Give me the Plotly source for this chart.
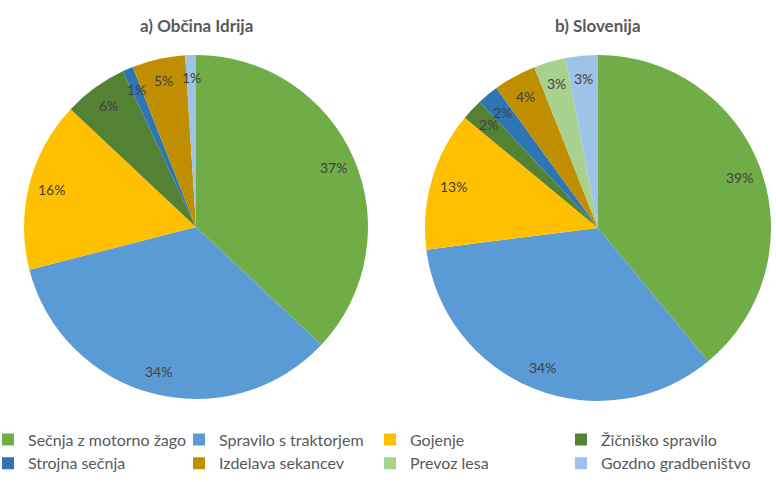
import math
import plotly.graph_objects as go

# Categories of forestry work and their shares (%)
categories = [
    "Sečnja z motorno žago",
    "Spravilo s traktorjem",
    "Gojenje",
    "Žičniško spravilo",
    "Strojna sečnja",
    "Izdelava sekancev",
    "Prevoz lesa",
    "Gozdno gradbeništvo",
]
idrija_values = [37, 34, 16, 6, 1, 5, 0, 1]
slovenija_values = [39, 34, 13, 2, 2, 4, 3, 3]
panel_titles = ["a) Občina Idrija", "b) Slovenija"]

colors = ["#70AD47", "#5B9BD5", "#FFC000", "#548235",
          "#2E75B6", "#BF8F00", "#A9D18E", "#9DC3E6"]

W, H = 776, 482
FONT = "Lato, Carlito, Calibri, sans-serif"

# pie geometry in pixels: (center x, center y, radius)
pies = [(196, 227, 172), (598, 228, 173)]
LABEL_R = 0.87


def px_x(x):
    return x / W


def px_y(y):
    return 1 - y / H


fig = go.Figure()
annotations = []
for i, (vals, (cx, cy, r), title) in enumerate(
        zip([idrija_values, slovenija_values], pies, panel_titles)):
    fig.add_trace(go.Pie(
        labels=categories,
        values=vals,
        sort=False,
        direction="clockwise",
        rotation=0,
        marker=dict(colors=colors, line=dict(width=0)),
        textposition="none",
        hoverinfo="label+percent",
        domain=dict(x=[px_x(cx - r), px_x(cx + r)],
                    y=[px_y(cy + r), px_y(cy - r)]),
        showlegend=(i == 0),
    ))
    annotations.append(dict(
        text=f"<b>{title}</b>", x=px_x(cx), y=px_y(25), xref="paper", yref="paper",
        showarrow=False, font=dict(family=FONT, size=17, color="#595959"),
        xanchor="center", yanchor="middle"))
    total = sum(vals)
    cum = 0
    for v in vals:
        if v > 0:
            mid = (cum + v / 2) / total * 2 * math.pi
            lx = cx + LABEL_R * r * math.sin(mid)
            ly = cy - LABEL_R * r * math.cos(mid)
            annotations.append(dict(
                text=f"{v}%", x=px_x(lx), y=px_y(ly), xref="paper", yref="paper",
                showarrow=False, font=dict(family=FONT, size=14, color="#404040"),
                xanchor="center", yanchor="middle"))
        cum += v

fig.update_layout(
    width=W, height=H,
    margin=dict(l=0, r=0, t=0, b=0),
    paper_bgcolor="white",
    plot_bgcolor="white",
    annotations=annotations,
    legend=dict(
        orientation="h",
        x=0, xanchor="left",
        y=px_y(422.5), yanchor="top",
        entrywidth=158, entrywidthmode="pixels",
        indentation=-12,
        font=dict(family=FONT, size=16, color="#595959"),
        traceorder="normal",
    ),
)

fig.write_html("out.html")
